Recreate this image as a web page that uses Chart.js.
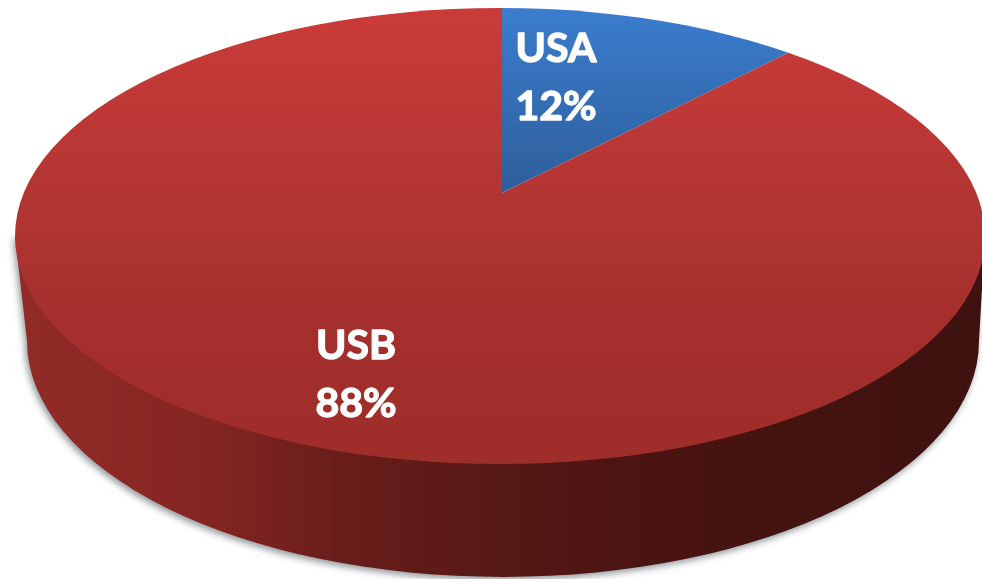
<!DOCTYPE html>
<html>
<head>
<meta charset="utf-8">
<style>
  html, body { margin: 0; padding: 0; background: #fff; overflow: hidden; }
  canvas { display: block; }
</style>
<script src="https://cdn.jsdelivr.net/npm/chart.js@4/dist/chart.umd.min.js"></script>
</head>
<body>
<canvas id="pie" width="982" height="579"></canvas>
<script>
const categories = ['USA', 'USB'];
const shares = [12, 88];

// tilted disc: top face ellipse, and where the pie centre lands on it
const top3d = { x: 500, y: 236, rx: 485, ry: 228 };
const bottom3d = { x: 503, y: 341, rx: 476, ry: 236 };
const apex = { x: 502, y: 193 };
const zoom = 2.3;
const squash = 0.46;

// chart y -> page y is apex.y + zoom * squash * (y - cy), this is the inverse
function chartY(chart, pageY) {
    return chart.height / 2 + (pageY - apex.y) / (zoom * squash);
}

function faceColor(c) {
    const chart = c.chart;
    const ctx = chart.ctx;
    if (c.dataIndex === 0) {
        const g = ctx.createLinearGradient(0, chartY(chart, 8), 0, chartY(chart, 193));
        g.addColorStop(0, '#3b7dce');
        g.addColorStop(1, '#2d5e9b');
        return g;
    }
    const g = ctx.createLinearGradient(0, chartY(chart, 8), 0, chartY(chart, 463));
    g.addColorStop(0, '#ca3b38');
    g.addColorStop(0.45, '#b13533');
    g.addColorStop(0.7, '#a42f2c');
    g.addColorStop(1, '#9f2d2a');
    return g;
}

const tilt = {
    id: 'tilt',
    beforeDatasetsDraw(chart) {
        const ctx = chart.ctx;
        // side wall with its soft shadow
        const wall = ctx.createLinearGradient(15, 0, 985, 0);
        wall.addColorStop(0, '#922b28');
        wall.addColorStop(0.2, '#842521');
        wall.addColorStop(0.33, '#6a1e1b');
        wall.addColorStop(0.5, '#561814');
        wall.addColorStop(0.65, '#4a1412');
        wall.addColorStop(0.82, '#431310');
        wall.addColorStop(1, '#3f120f');
        ctx.save();
        ctx.beginPath();
        ctx.moveTo(top3d.x - top3d.rx, top3d.y);
        ctx.lineTo(bottom3d.x - bottom3d.rx, bottom3d.y);
        ctx.ellipse(bottom3d.x, bottom3d.y, bottom3d.rx, bottom3d.ry, 0, Math.PI, 0, true);
        ctx.lineTo(top3d.x + top3d.rx, top3d.y);
        ctx.closePath();
        ctx.shadowColor = 'rgba(70,80,90,0.6)';
        ctx.shadowBlur = 7;
        ctx.shadowOffsetX = -2;
        ctx.shadowOffsetY = 3;
        ctx.fillStyle = wall;
        ctx.fill();
        ctx.restore();

        // top face: clip to the ellipse, then squash the pie
        const arc = chart.getDatasetMeta(0).data[0];
        ctx.save();
        ctx.beginPath();
        ctx.ellipse(top3d.x, top3d.y, top3d.rx, top3d.ry, 0, 0, Math.PI * 2);
        ctx.clip();
        ctx.translate(apex.x, apex.y);
        ctx.scale(zoom, zoom * squash);
        ctx.translate(-arc.x, -arc.y);
    },
    afterDatasetsDraw(chart) {
        const ctx = chart.ctx;
        ctx.restore();

        ctx.save();
        ctx.fillStyle = '#fff';
        ctx.strokeStyle = '#fff';
        ctx.lineWidth = 1.3;
        ctx.lineJoin = 'round';
        ctx.font = 'bold 41px Lato';
        ctx.textAlign = 'center';
        ctx.textBaseline = 'middle';
        const rows = [
            [categories[0], 556, 49], [shares[0] + '%', 556, 107],
            [categories[1], 356, 346], [shares[1] + '%', 356, 404]
        ];
        rows.forEach(r => {
            ctx.fillText(r[0], r[1], r[2]);
            ctx.strokeText(r[0], r[1], r[2]);
        });
        ctx.restore();
    }
};

new Chart(document.getElementById('pie'), {
    type: 'pie',
    data: {
        labels: categories,
        datasets: [{
            data: shares,
            backgroundColor: faceColor,
            borderWidth: 0,
            clip: false
        }]
    },
    options: {
        responsive: false,
        animation: false,
        events: [],
        radius: 280,
        layout: { padding: 0 },
        plugins: {
            legend: { display: false },
            tooltip: { enabled: false }
        }
    },
    plugins: [tilt]
});
</script>
</body>
</html>
